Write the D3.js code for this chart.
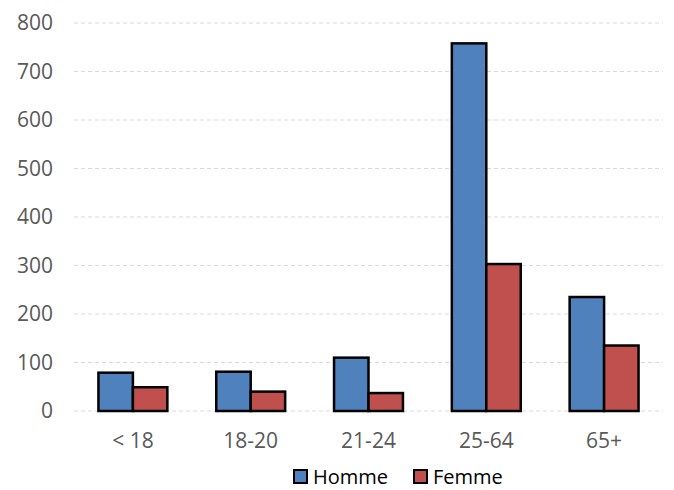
<!DOCTYPE html>
<html>
<head>
<meta charset="utf-8">
<script src="https://cdn.jsdelivr.net/npm/d3@7"></script>
<style>
  body { margin: 0; background: #fff; }
  svg text { font-family: "Open Sans", "Noto Sans", sans-serif; }
</style>
</head>
<body>
<div id="chart"></div>
<script>
const categories = ["< 18", "18-20", "21-24", "25-64", "65+"];
const seriesNames = ["Homme", "Femme"];
const homme = [79, 81, 110, 758, 235];
const femme = [49, 40, 37, 303, 135];
const yTicks = [0, 100, 200, 300, 400, 500, 600, 700, 800];
const colors = ["#4F81BD", "#C0504D"];

const width = 674, height = 490;
const margin = {top: 23, right: 11, bottom: 79, left: 74};

const svg = d3.select("#chart").append("svg")
    .attr("width", width)
    .attr("height", height);

const x = d3.scaleBand()
    .domain(categories)
    .range([margin.left, width - margin.right])
    .paddingInner(0.415)
    .paddingOuter(0.2075);

const xSub = d3.scaleBand()
    .domain(seriesNames)
    .range([0, x.bandwidth()]);

const y = d3.scaleLinear()
    .domain([0, 800])
    .range([height - margin.bottom, margin.top]);

// gridlines
svg.append("g")
    .selectAll("line")
    .data(yTicks)
    .join("line")
    .attr("x1", margin.left)
    .attr("x2", width - margin.right)
    .attr("y1", d => y(d))
    .attr("y2", d => y(d))
    .attr("stroke", "#d9d9d9")
    .attr("stroke-width", 1)
    .attr("stroke-dasharray", "4,3");

// y axis labels
const yAxis = d3.axisLeft(y).tickValues(yTicks).tickSize(0).tickPadding(21);
svg.append("g")
    .attr("transform", `translate(${margin.left},0)`)
    .call(yAxis)
    .call(g => g.select(".domain").remove())
    .call(g => g.selectAll("text")
        .attr("fill", "#595959")
        .style("font-family", "'Open Sans', sans-serif")
        .style("font-size", "21px"));

// x axis labels
const xAxis = d3.axisBottom(x).tickSize(0).tickPadding(22);
svg.append("g")
    .attr("transform", `translate(0,${height - margin.bottom})`)
    .call(xAxis)
    .call(g => g.select(".domain").remove())
    .call(g => g.selectAll("text")
        .attr("fill", "#595959")
        .style("font-family", "'Open Sans', sans-serif")
        .style("font-size", "21px"));

const rows = categories.map((c, i) => ({cat: c, values: [homme[i], femme[i]]}));

svg.append("g")
    .selectAll("g")
    .data(rows)
    .join("g")
    .attr("transform", d => `translate(${x(d.cat)},0)`)
    .selectAll("rect")
    .data(d => d.values.map((v, j) => ({name: seriesNames[j], value: v, j})))
    .join("rect")
    .attr("x", d => xSub(d.name))
    .attr("width", xSub.bandwidth())
    .attr("y", d => y(d.value))
    .attr("height", d => y(0) - y(d.value))
    .attr("fill", d => colors[d.j])
    .attr("stroke", "#000")
    .attr("stroke-width", 2.5);

// legend
const legendX = [294, 414];
const legend = svg.append("g")
    .selectAll("g")
    .data(seriesNames)
    .join("g")
    .attr("transform", (d, i) => `translate(${legendX[i]},470)`);

legend.append("rect")
    .attr("width", 13)
    .attr("height", 13)
    .attr("fill", (d, i) => colors[i])
    .attr("stroke", "#000")
    .attr("stroke-width", 2);

legend.append("text")
    .attr("x", 19)
    .attr("y", 6.5)
    .attr("dy", "0.36em")
    .attr("fill", "#000")
    .style("font-size", "20px")
    .text(d => d);
</script>
</body>
</html>
